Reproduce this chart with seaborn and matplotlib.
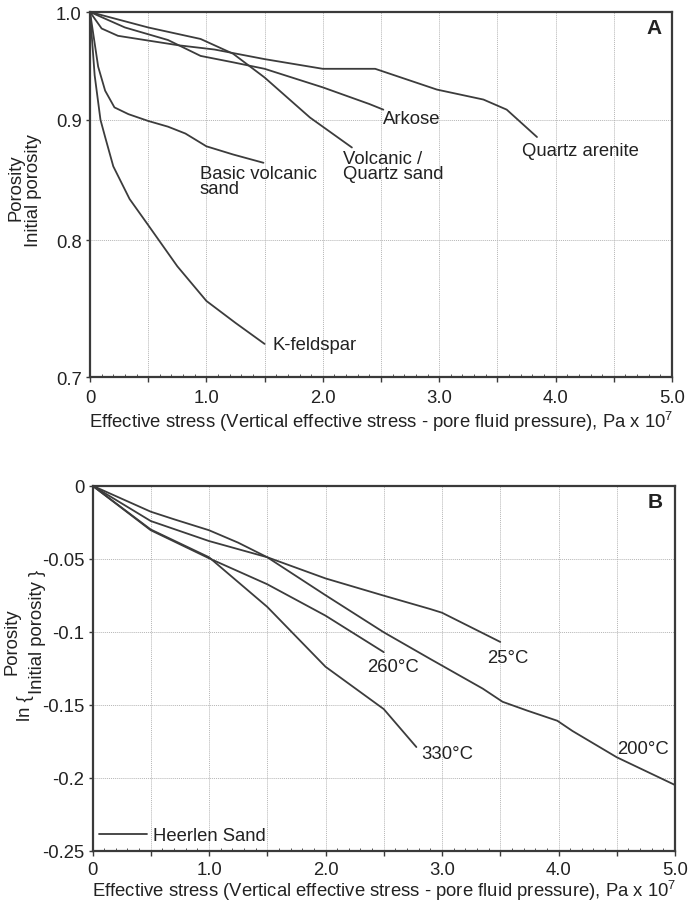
import numpy as np
import pandas as pd
import matplotlib
matplotlib.use("Agg")
import matplotlib.pyplot as plt
import seaborn as sns
from matplotlib.lines import Line2D
from matplotlib.ticker import NullLocator, MultipleLocator

# ---------------- Panel A data (porosity / initial porosity) ----------------
kfeld_x = [0, 0.04, 0.09, 0.13, 0.2, 0.34, 0.5, 0.75, 1.0, 1.25, 1.5]
kfeld_y = [1.0, 0.94, 0.90, 0.885, 0.86, 0.833, 0.812, 0.78, 0.754, 0.738, 0.723]

basic_x = [0, 0.07, 0.13, 0.21, 0.33, 0.5, 0.67, 0.82, 1.0, 1.23, 1.49]
basic_y = [1.0, 0.948, 0.926, 0.911, 0.905, 0.899, 0.894, 0.888, 0.877, 0.870, 0.863]

volc_x = [0, 0.5, 0.95, 1.23, 1.5, 1.89, 2.25]
volc_y = [1.0, 0.985, 0.974, 0.960, 0.938, 0.902, 0.876]

arkose_x = [0, 0.3, 0.67, 0.95, 1.23, 1.5, 2.0, 2.4, 2.52]
arkose_y = [1.0, 0.985, 0.973, 0.958, 0.952, 0.946, 0.929, 0.914, 0.909]

qarenite_x = [0, 0.1, 0.24, 0.47, 0.76, 1.07, 1.5, 2.0, 2.45, 2.98, 3.38, 3.58, 3.84]
qarenite_y = [1.0, 0.984, 0.977, 0.973, 0.968, 0.964, 0.955, 0.946, 0.946, 0.927, 0.918, 0.909, 0.885]

# ---------------- Panel B data (ln porosity ratio) ----------------
t25_x = [0, 0.5, 1.0, 1.5, 2.0, 2.5, 2.9, 3.0, 3.5]
t25_y = [0, -0.0242, -0.0379, -0.049, -0.0635, -0.0753, -0.0845, -0.087, -0.107]

t200_x = [0, 0.5, 0.7, 1.0, 1.25, 1.5, 2.0, 2.5, 2.9, 3.35, 3.52, 3.73, 3.99, 4.12, 4.5, 5.0]
t200_y = [0, -0.0178, -0.023, -0.0305, -0.039, -0.049, -0.075, -0.1004, -0.1187,
          -0.139, -0.148, -0.154, -0.161, -0.168, -0.186, -0.205]

t260_x = [0, 0.5, 1.0, 1.5, 2.0, 2.5]
t260_y = [0, -0.0305, -0.0497, -0.0675, -0.089, -0.114]

t330_x = [0, 0.5, 1.0, 1.5, 2.0, 2.5, 2.78]
t330_y = [0, -0.030, -0.049, -0.083, -0.124, -0.153, -0.179]

x_ticks = [0, 0.5, 1.0, 1.5, 2.0, 2.5, 3.0, 3.5, 4.0, 4.5, 5.0]
x_ticklabels = ["0", "", "1.0", "", "2.0", "", "3.0", "", "4.0", "", "5.0"]
a_yticks = [0.7, 0.8, 0.9, 1.0]
a_yticklabels = ["0.7", "0.8", "0.9", "1.0"]
b_yticks = [-0.25, -0.2, -0.15, -0.1, -0.05, 0]
b_yticklabels = ["-0.25", "-0.2", "-0.15", "-0.1", "-0.05", "0"]

xlabel = "Effective stress (Vertical effective stress - pore fluid pressure), Pa x 10$\\mathregular{^7}$"


def long_df(series):
    rows = []
    for name, xs, ys in series:
        for x, y in zip(xs, ys):
            rows.append({"series": name, "x": x, "y": y})
    return pd.DataFrame(rows)


dfA = long_df([
    ("K-feldspar", kfeld_x, kfeld_y),
    ("Basic volcanic sand", basic_x, basic_y),
    ("Volcanic / Quartz sand", volc_x, volc_y),
    ("Arkose", arkose_x, arkose_y),
    ("Quartz arenite", qarenite_x, qarenite_y),
])
dfB = long_df([
    ("25", t25_x, t25_y),
    ("200", t200_x, t200_y),
    ("260", t260_x, t260_y),
    ("330", t330_x, t330_y),
])

sns.set_theme(style="white")
plt.rcParams["font.family"] = ["Liberation Sans", "DejaVu Sans"]
plt.rcParams["mathtext.fontset"] = "custom"
plt.rcParams["mathtext.rm"] = "Liberation Sans"

LC = "#3c3c3c"
SC = "#3a3a3a"
FS = 13.3

W, H = 690, 904
fig = plt.figure(figsize=(W / 100, H / 100), dpi=100)
axA = fig.add_axes([90 / W, 1 - 378 / H, (672 - 90) / W, (378 - 13) / H])
axB = fig.add_axes([92.5 / W, 1 - 851.7 / H, (675 - 92.5) / W, (851.7 - 486.7) / H])

for ax, df in ((axA, dfA), (axB, dfB)):
    names = list(dict.fromkeys(df["series"]))
    sns.lineplot(data=df, x="x", y="y", hue="series", hue_order=names,
                 palette=[LC] * len(names), estimator=None, sort=False,
                 legend=False, linewidth=1.3, ax=ax)

axA.set_yscale("log")
axA.set_ylim(0.7, 1.0)
axA.set_yticks(a_yticks)
axA.set_yticklabels(a_yticklabels)
axA.yaxis.set_minor_locator(NullLocator())

axB.set_ylim(-0.25, 0)
axB.set_yticks(b_yticks)
axB.set_yticklabels(b_yticklabels)

for ax, xpad, lpad in ((axA, 5, 2), (axB, 4, 0)):
    ax.set_xlim(0, 5)
    ax.set_xticks(x_ticks)
    ax.set_xticklabels(x_ticklabels)
    ax.xaxis.set_minor_locator(MultipleLocator(0.1))
    ax.grid(True, which="major", color="#b5b5b5", linestyle=(0, (1, 1)), linewidth=0.7)
    ax.set_axisbelow(True)
    for s in ax.spines.values():
        s.set_color(SC)
        s.set_linewidth(1.6)
        s.set_visible(True)
    ax.tick_params(axis="x", which="major", direction="out", length=3.5, width=1.0,
                   color=SC, labelsize=FS, pad=xpad, bottom=True, labelcolor="#222222")
    ax.tick_params(axis="x", which="minor", direction="in", length=2, width=0.6,
                   color=SC, bottom=True)
    ax.tick_params(axis="y", which="major", direction="out", length=3, width=1.0,
                   color=SC, labelsize=FS, pad=3, left=True, labelcolor="#222222")
    ax.set_xlabel(xlabel, fontsize=FS, color="#222222", labelpad=lpad)
    ax.set_ylabel("")

tk = dict(fontsize=FS, color="#222222")
# Panel A annotations
axA.text(0.945, 0.848, "Basic volcanic\nsand", ha="left", va="center", linespacing=0.85, **tk)
axA.text(2.174, 0.860, "Volcanic /\nQuartz sand", ha="left", va="center", linespacing=0.85, **tk)
axA.text(2.517, 0.901, "Arkose", ha="left", va="center", **tk)
axA.text(3.711, 0.873, "Quartz arenite", ha="left", va="center", **tk)
axA.text(1.564, 0.7226, "K-feldspar", ha="left", va="center", **tk)
axA.text(4.914, 0.9845, "A", ha="right", va="center", fontsize=15, fontweight="bold", color="#222222")

# Panel B annotations
axB.text(2.354, -0.1235, "260°C", ha="left", va="center", **tk)
axB.text(3.384, -0.118, "25°C", ha="left", va="center", **tk)
axB.text(2.826, -0.1831, "330°C", ha="left", va="center", **tk)
axB.text(4.50, -0.1797, "200°C", ha="left", va="center", **tk)
axB.text(4.897, -0.0108, "B", ha="right", va="center", fontsize=15, fontweight="bold", color="#222222")

leg = axB.legend(handles=[Line2D([], [], color=LC, linewidth=1.3)], labels=["Heerlen Sand"],
                 loc="lower left", frameon=False, fontsize=FS, handlelength=2.6,
                 handletextpad=0.3, borderaxespad=0.15, borderpad=0.2)
for t in leg.get_texts():
    t.set_color("#222222")

# y-axis labels placed in figure pixel coordinates
def ftext(px, py, s):
    fig.text(px / W, 1 - py / H, s, rotation=90, ha="center", va="center", **tk)

ftext(16, 188, "Porosity")
ftext(33, 191, "Initial porosity")

ftext(12, 642, "Porosity")
ftext(26, 708, "ln {")
ftext(37, 632, "Initial porosity }")

fig.savefig("out.png", dpi=100)
